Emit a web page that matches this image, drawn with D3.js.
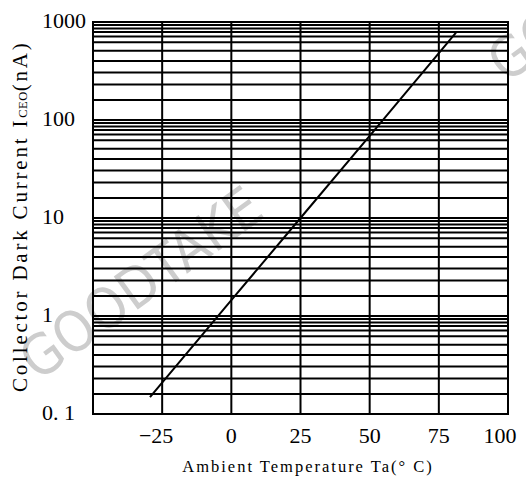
<!DOCTYPE html>
<html>
<head>
<meta charset="utf-8">
<script src="https://cdn.jsdelivr.net/npm/d3@7"></script>
<style>
  body { margin: 0; background: #fff; }
  svg { display: block; }
</style>
</head>
<body>
<svg id="chart" width="526" height="478"></svg>
<script>
// axis values
var tempTicks = [-25, 0, 25, 50, 75, 100];
var tempLabels = ["\u221225", "0", "25", "50", "75", "100"];
var currentTicks = [0.1, 1, 10, 100, 1000];
var currentLabels = ["0. 1", "1", "10", "100", "1000"];
// minor grid multipliers inside each decade
var minorSteps = [1.6, 2.3, 3.05, 4, 5.1, 6.2, 7.1, 7.9, 8.6, 9.3];

// the curve
var tempC = [-29.4, 0, 25, 50, 81.2];
var darkCurrent = [0.149, 1.45, 10, 69, 778];

var svg = d3.select("#chart"),
	margin = {top: 22, left: 93, bottom: 64, right: 18},
	width = +svg.attr("width") - margin.left - margin.right,
	height = +svg.attr("height") - margin.top - margin.bottom;

var x = d3.scaleLinear()
	.domain([-50, 100])
	.range([margin.left, margin.left + width]);

var y = d3.scaleLog()
	.domain([0.1, 1000])
	.range([margin.top + height, margin.top]);

var tickFont = "'Liberation Serif', 'Times New Roman', serif";

// watermark behind everything
var marks = [[38, 382], [506, 84]];
svg.selectAll("text.wm")
	.data(marks)
	.enter().append("text")
	.attr("class", "wm")
	.attr("transform", d => `translate(${d[0]},${d[1]}) rotate(-36)`)
	.attr("font-family", "'Liberation Sans Narrow', 'Arial Narrow', 'DejaVu Sans Condensed', sans-serif")
	.attr("font-size", 56)
	.attr("fill", "#cdcdcd")
	.text("GOODTAKE");

// horizontal grid
var decades = currentTicks.slice(0, -1);
var minorVals = [];
decades.forEach(function(d) {
	minorSteps.forEach(s => minorVals.push(d * s));
});
var hLines = currentTicks.concat(minorVals);

var grid = svg.append("g").attr("stroke", "#000").attr("stroke-width", 2);

grid.selectAll("line.h")
	.data(hLines)
	.enter().append("line")
	.attr("class", "h")
	.attr("x1", x(-50)).attr("x2", x(100))
	.attr("y1", d => y(d)).attr("y2", d => y(d));

grid.selectAll("line.v")
	.data(tempTicks)
	.enter().append("line")
	.attr("class", "v")
	.attr("x1", d => x(d)).attr("x2", d => x(d))
	.attr("y1", y(0.1)).attr("y2", y(1000));

grid.append("rect")
	.attr("x", x(-50)).attr("y", y(1000))
	.attr("width", x(100) - x(-50))
	.attr("height", y(0.1) - y(1000))
	.attr("fill", "none");

// curve
var line = d3.line()
	.x(d => x(d[0]))
	.y(d => y(d[1]));

svg.append("path")
	.datum(d3.zip(tempC, darkCurrent))
	.attr("d", line)
	.attr("fill", "none")
	.attr("stroke", "#000")
	.attr("stroke-width", 2);

// y tick labels
svg.selectAll("text.ylab")
	.data(currentTicks)
	.enter().append("text")
	.attr("class", "ylab")
	.attr("x", 42)
	.attr("y", d => y(d) - 1)
	.attr("dy", "0.33em")
	.attr("font-family", tickFont)
	.attr("font-size", 22)
	.text((d, i) => currentLabels[i]);

// x tick labels
svg.selectAll("text.xlab")
	.data(tempTicks)
	.enter().append("text")
	.attr("class", "xlab")
	.attr("x", (d, i) => i == tempTicks.length - 1 ? x(d) - 8 : x(d) - (d < 0 ? 6 : 0))
	.attr("y", 443)
	.attr("text-anchor", "middle")
	.attr("font-family", tickFont)
	.attr("font-size", 22)
	.text((d, i) => tempLabels[i]);

// axis titles
svg.append("text")
	.attr("x", 308)
	.attr("y", 472)
	.attr("text-anchor", "middle")
	.attr("font-family", tickFont)
	.attr("font-size", 16.5)
	.attr("letter-spacing", 2)
	.text("Ambient Temperature Ta(\u00b0 C)");

var yt = svg.append("text")
	.attr("transform", "translate(27,392) rotate(-90)")
	.attr("font-family", tickFont)
	.attr("font-size", 21)
	.attr("letter-spacing", 2.8);
yt.append("tspan").text("Collector Dark Current I");
yt.append("tspan").attr("font-size", 12.5).attr("letter-spacing", 0.5).text("CEO");
yt.append("tspan").text("(nA)");
</script>
</body>
</html>
